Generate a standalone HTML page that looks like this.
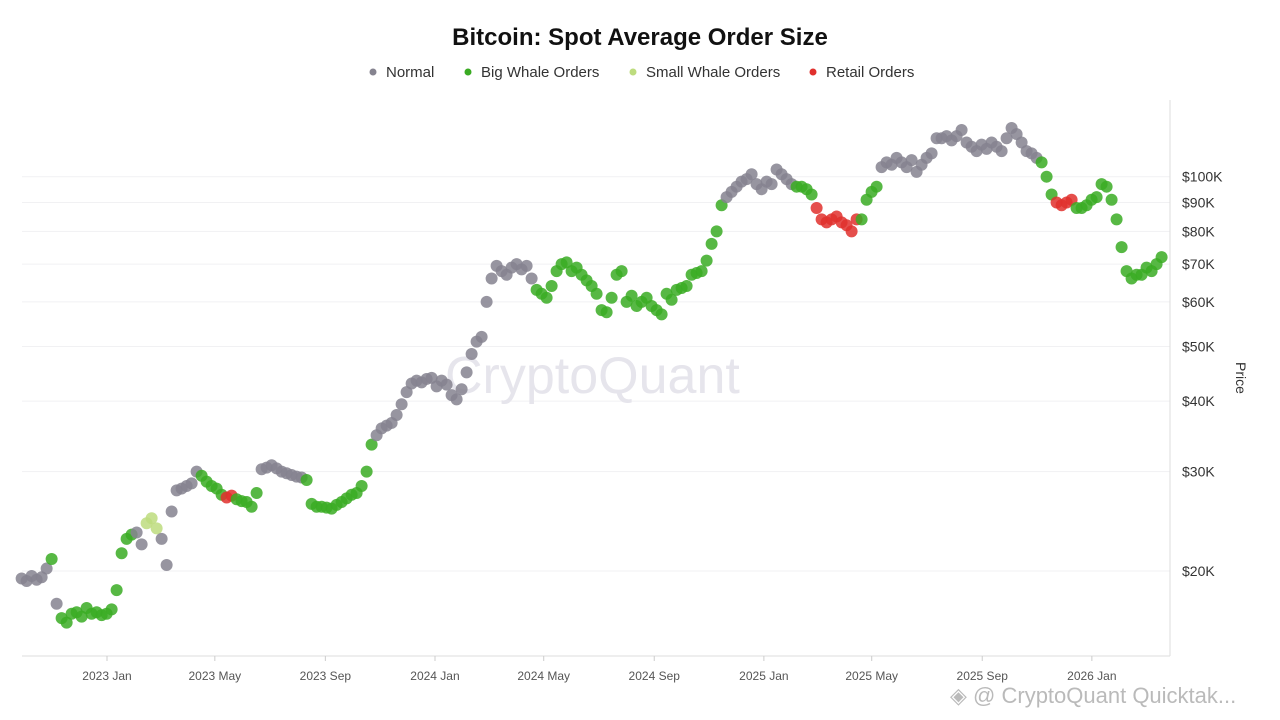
<!DOCTYPE html>
<html><head><meta charset="utf-8"><style>
body{margin:0;background:#fff;font-family:"Liberation Sans",sans-serif;}
#wrap{position:relative;width:1280px;height:720px;overflow:hidden;}
</style></head><body>
<div id="wrap">
<svg id="chart" width="1280" height="720">
<text x="640" y="45" text-anchor="middle" font-size="24" font-weight="bold" fill="#111">Bitcoin: Spot Average Order Size</text>
<g font-size="15" fill="#333">
<g><circle cx="373" cy="72" r="3.5" fill="#85838f"/><text x="386" y="77">Normal</text></g>
<g><circle cx="468" cy="72" r="3.5" fill="#3aab23"/><text x="481" y="77">Big Whale Orders</text></g>
<g><circle cx="633" cy="72" r="3.5" fill="#bddc7e"/><text x="646" y="77">Small Whale Orders</text></g>
<g><circle cx="813" cy="72" r="3.5" fill="#e0302d"/><text x="826" y="77">Retail Orders</text></g>
</g>
<g id="grid"></g>
<text x="445" y="393" font-size="52" fill="#e6e5ec">CryptoQuant</text>
<line x1="1170" y1="100" x2="1170" y2="656" stroke="#ddd"/>
<line x1="22" y1="656" x2="1170" y2="656" stroke="#ddd"/>
<g id="yticks"></g>
<g id="xticks"></g>
<text transform="translate(1236,378) rotate(90)" text-anchor="middle" font-size="14" fill="#333">Price</text>
<g id="dots"></g>
<text x="950" y="703" font-size="22" fill="#aaa" opacity="0.8">◈ @ CryptoQuant Quicktak...</text>
</svg>
</div>
<script>
const yTickValues=[20000,30000,40000,50000,60000,70000,80000,90000,100000];
const yTickLabels=["$20K","$30K","$40K","$50K","$60K","$70K","$80K","$90K","$100K"];
const xTickDates=["2023-01-01","2023-05-01","2023-09-01","2024-01-01","2024-05-01","2024-09-01","2025-01-01","2025-05-01","2025-09-01","2026-01-01"];
const xTickLabels=["2023 Jan","2023 May","2023 Sep","2024 Jan","2024 May","2024 Sep","2025 Jan","2025 May","2025 Sep","2026 Jan"];
const startDate="2022-09-28";
const stepDays=5.564;
const pricesK=[
19.4,19.2,19.6,19.3,19.5,20.2,21,17.5,16.5,16.2,
16.8,16.9,16.6,17.2,16.8,16.9,16.7,16.8,17.1,18.5,
21.5,22.8,23.2,23.4,22.3,24.3,24.8,23.8,22.8,20.5,
25.5,27.8,28.0,28.3,28.6,30.0,29.5,28.8,28.3,28.0,
27.3,27.0,27.2,26.8,26.6,26.5,26.0,27.5,30.3,30.5,
30.8,30.4,30.0,29.8,29.6,29.4,29.3,29.0,26.3,26.0,
26.0,25.9,25.8,26.2,26.5,26.9,27.3,27.5,28.3,30.0,
33.5,34.8,35.8,36.2,36.6,37.8,39.5,41.5,43.0,43.5,
43.2,43.8,44.0,42.5,43.5,42.8,41.0,40.3,42.0,45.0,
48.5,51.0,52.0,60,66,69.5,68,67,69,70,
68.5,69.5,66,63,62,61,64,68,70,70.5,
68,69,67,65.5,64,62,58,57.5,61,67,
68,60,61.5,59,60,61,59,58,57,62,
60.5,63,63.5,64,67,67.5,68,71,76,80,
89,92,94,96,98,99,101,97,95,98,
97,103,101,99,97,96,96,95,93,88,
84,83,84,85,83,82,80,84,84,91,
94,96,104,106,105,108,106,104,107,102,
105,108,110,117,117,118,116,118,121,115,
113,111,114,112,115,113,111,117,122,119,
115,111,110,108,106,100,93,90,89,90,
91,88,88,89,91,92,97,96,91,84,
75,68,66,67,67,69,68,70,72];
const categories=(
"NNNNNNBNBB"+"BBBBBBBBBB"+"BBBNNSSSNN"+"NNNNNNBBBB"+"BRRBBBBBNN"+
"NNNNNNNBBB"+"BBBBBBBBBB"+"BNNNNNNNNN"+"NNNNNNNNNN"+"NNNNNNNNNN"+
"NNNBBBBBBB"+"BBBBBBBBBB"+"BBBBBBBBBB"+"BBBBBBBBBB"+"BNNNNNNNNN"+
"NNNNNBBBBR"+"RRRRRRRRBB"+"BBNNNNNNNN"+"NNNNNNNNNN"+"NNNNNNNNNN"+
"NNNNBBBRRR"+"RBBBBBBBBB"+"BBBBBBBBB").split("");
const colors={N:"#85838f",B:"#3aab23",S:"#bddc7e",R:"#e0302d"};
const ns="http://www.w3.org/2000/svg";
const d0=Date.parse("2023-01-01");
function xScale(t){return 107+(t-d0)/86400000*0.8986;}
function yScale(p){return 571-245*Math.log(p/20000);}
const grid=document.getElementById('grid'),yt=document.getElementById('yticks'),xt=document.getElementById('xticks'),dots=document.getElementById('dots');
yTickValues.forEach((v,i)=>{
 const y=yScale(v);
 const l=document.createElementNS(ns,'line');
 l.setAttribute('x1',22);l.setAttribute('x2',1170);l.setAttribute('y1',y);l.setAttribute('y2',y);l.setAttribute('stroke','#f1f1f3');
 
 
 grid.appendChild(l);
 const t=document.createElementNS(ns,'text');
 t.setAttribute('x',1182);t.setAttribute('y',y+5);t.setAttribute('font-size','14');t.setAttribute('fill','#333');
 t.textContent=yTickLabels[i];
 
 
 yt.appendChild(t);
});
xTickDates.forEach((d,i)=>{
 const x=xScale(Date.parse(d));
 const l=document.createElementNS(ns,'line');
 l.setAttribute('x1',x);l.setAttribute('x2',x);l.setAttribute('y1',656);l.setAttribute('y2',661);l.setAttribute('stroke','#ccc');
 
 
 xt.appendChild(l);
 const t=document.createElementNS(ns,'text');
 t.setAttribute('x',x);t.setAttribute('y',680);t.setAttribute('font-size','12');t.setAttribute('fill','#555');t.setAttribute('text-anchor','middle');
 t.textContent=xTickLabels[i];
 
 
 xt.appendChild(t);
});
const s0=Date.parse(startDate);
pricesK.forEach((p,i)=>{
 const c=document.createElementNS(ns,'circle');
 c.setAttribute('cx',xScale(s0+i*stepDays*86400000));
 c.setAttribute('cy',yScale(p*1000));
 c.setAttribute('r',6);
 c.setAttribute('fill',colors[categories[i]]||colors.B);
 c.setAttribute('opacity','0.85');
 
 
 dots.appendChild(c);
});
</script>
</body></html>
